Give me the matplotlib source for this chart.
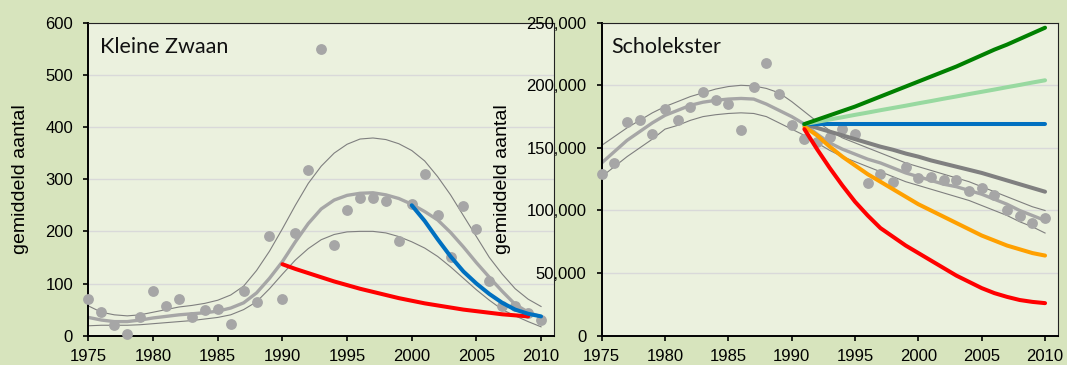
import numpy as np
import matplotlib
matplotlib.use("Agg")
import matplotlib.pyplot as plt
from matplotlib.ticker import FuncFormatter

plt.rcParams['font.family'] = ['Liberation Sans', 'DejaVu Sans']

years = np.arange(1975, 2011)

# Kleine Zwaan: yearly counts, smoothed trend and its band
kz_counts = [70, 45, 20, 3, 35, 86, 56, 71, 35, 49,
             52, 23, 86, 65, 191, 70, 197, 318, 550, 174,
             241, 263, 263, 258, 182, 252, 310, 231, 151, 249,
             204, 105, 57, 56, 43, 31]
kz_trend = [35, 30, 27, 27, 30, 34, 37, 40, 42, 44,
            47, 53, 63, 82, 110, 142, 180, 215, 243, 260,
            269, 273, 274, 270, 263, 252, 238, 222, 198, 170,
            140, 112, 85, 60, 45, 36]
kz_upper = [57, 45, 40, 38, 40, 45, 50, 55, 58, 62,
            68, 78, 95, 125, 162, 205, 250, 292, 325, 350,
            367, 377, 379, 376, 368, 355, 335, 305, 270, 230,
            190, 150, 118, 90, 70, 56]
kz_lower = [19, 20, 20, 20, 21, 23, 25, 27, 29, 32,
            35, 40, 50, 65, 90, 118, 145, 167, 184, 194,
            199, 200, 200, 197, 190, 180, 168, 152, 132, 110,
            88, 68, 50, 38, 27, 17]
kz_red_years = np.arange(1990, 2010)
kz_red = [137, 128, 120, 112, 104, 97, 90, 84, 78, 72,
          67, 62, 58, 54, 50, 47, 44, 41, 39, 37]
kz_blue_years = np.arange(2000, 2011)
kz_blue = [250, 220, 185, 152, 123, 100, 80, 63, 50, 42, 37]

# Scholekster (x1000)
sc_counts = [129, 138, 171, 172, 161, 181, 172, 183, 195, 188,
             185, 164, 199, 218, 193, 168, 157, 155, 159, 165,
             161, 122, 129, 123, 134.5, 126, 127, 124, 124, 115.5,
             118, 112, 100, 96, 90, 94]
sc_trend = [138, 147, 156, 163, 170, 176, 180, 184, 186.5, 188,
            189, 189.5, 189, 185, 180, 175, 169, 161, 154, 149,
            145, 141, 138, 134, 130, 127, 124, 121, 119, 116,
            113, 109, 105, 100, 96, 92]
sc_upper = [152, 159, 166, 172, 178, 183, 187, 191, 194, 197,
            199, 200, 199.5, 197.5, 194, 187, 179, 171, 164, 158,
            154, 150, 146, 142, 138, 135, 132, 129, 126, 123,
            119, 115, 111, 107, 103, 100]
sc_lower = [127, 135, 143, 150, 157, 165, 168, 172, 175, 176.5,
            177.5, 178, 177.5, 175, 170, 165, 160, 154, 148, 143,
            139, 135, 131, 127, 123, 120, 117, 114, 111, 108,
            104, 100, 96, 91, 87, 82]
sc_scen_years = np.arange(1991, 2011)
sc_green = [169, 172.5, 176, 179.5, 183, 187, 191, 195, 199, 203,
            207, 211, 215, 219.5, 224, 228.5, 232.5, 237, 241.5, 246]
sc_lightgreen = [169, 170.8, 172.7, 174.5, 176.4, 178.2, 180.1, 181.9, 183.7, 185.6,
                 187.4, 189.3, 191.1, 193, 194.8, 196.6, 198.5, 200.3, 202.2, 204]
sc_blue = [169] * 20
sc_gray = [169, 166, 163, 160, 157, 154, 151, 148.5, 145.5, 143,
           140, 137.5, 135, 132.5, 130, 127, 124, 121, 118, 115]
sc_orange = [167, 160, 151, 143, 136, 129, 123, 117, 111, 105,
             100, 95, 90, 85, 80, 76, 72, 69, 66, 64]
sc_red = [165, 149, 134, 120, 107, 96, 86, 79, 72, 66,
          60, 54, 48, 43, 38, 34, 31, 28.5, 27, 26]

FIG_BG = '#d7e4bd'
AX_BG = '#ebf1de'
PT = '#a6a6a6'
BAND = '#7f7f7f'

fig = plt.figure(figsize=(10.67, 3.65), dpi=100, facecolor=FIG_BG)
ax1 = fig.add_axes([0.0829, 0.0803, 0.4363, 0.8575])
ax2 = fig.add_axes([0.5639, 0.0803, 0.4274, 0.8575])


def style(ax, ymax, ystep):
    ax.set_facecolor(AX_BG)
    ax.set_xlim(1975, 2011)
    ax.set_ylim(0, ymax)
    ax.set_xticks(np.arange(1975, 2011, 5))
    ax.set_yticks(np.arange(0, ymax + 1, ystep))
    ax.grid(axis='y', color='#d9d9d9', lw=1.0, zorder=0)
    ax.set_axisbelow(True)
    ax.tick_params(axis='both', direction='out', length=3.6, width=1.2,
                   labelsize=12, color='black')
    ax.tick_params(axis='x', pad=6)
    ax.tick_params(axis='y', pad=7.5)
    for s in ['left', 'bottom']:
        ax.spines[s].set_linewidth(1.4)
    for s in ['top', 'right']:
        ax.spines[s].set_linewidth(0.8)
        ax.spines[s].set_color('#222222')


style(ax1, 600, 100)
style(ax2, 250000, 50000)
ax2.yaxis.set_major_formatter(FuncFormatter(lambda v, p: f'{int(v):,}'))

# left panel
ax1.plot(years, kz_upper, color=BAND, lw=0.8, zorder=2)
ax1.plot(years, kz_lower, color=BAND, lw=0.8, zorder=2)
ax1.plot(years, kz_trend, color=PT, lw=2.4, zorder=2)
ax1.plot(years, kz_counts, 'o', color=PT, ms=7.8, mec='none', zorder=3, clip_on=False)
ax1.plot(kz_red_years, kz_red, color='#ff0000', lw=2.9, solid_capstyle='round', zorder=4)
ax1.plot(kz_blue_years, kz_blue, color='#0070c0', lw=2.9, solid_capstyle='round', zorder=4)
ax1.text(0.025, 0.903, 'Kleine Zwaan', transform=ax1.transAxes, fontsize=15.5,
         family=['Lato', 'DejaVu Sans'], va='baseline', color='#111111')
ax1.set_ylabel('gemiddeld aantal', fontsize=14)
ax1.yaxis.set_label_coords(-0.128, 0.5)

# right panel
sc = lambda v: np.array(v) * 1000
ax2.plot(years, sc(sc_upper), color=BAND, lw=0.8, zorder=2)
ax2.plot(years, sc(sc_lower), color=BAND, lw=0.8, zorder=2)
ax2.plot(years, sc(sc_trend), color=PT, lw=2.4, zorder=2)
ax2.plot(years, sc(sc_counts), 'o', color=PT, ms=7.8, mec='none', zorder=3, clip_on=False)
for vals, col in [(sc_gray, '#808080'), (sc_orange, '#ffa000'), (sc_red, '#ff0000'),
                  (sc_blue, '#0070c0'), (sc_lightgreen, '#98d9a0'), (sc_green, '#008000')]:
    ax2.plot(sc_scen_years, sc(vals), color=col, lw=2.9, solid_capstyle='round', zorder=4)
ax2.text(0.022, 0.903, 'Scholekster', transform=ax2.transAxes, fontsize=15.5,
         family=['Lato', 'DejaVu Sans'], va='baseline', color='#111111')
ax2.set_ylabel('gemiddeld aantal', fontsize=14)
ax2.yaxis.set_label_coords(-0.199, 0.5)

fig.savefig('out.png', dpi=100, facecolor=FIG_BG)
